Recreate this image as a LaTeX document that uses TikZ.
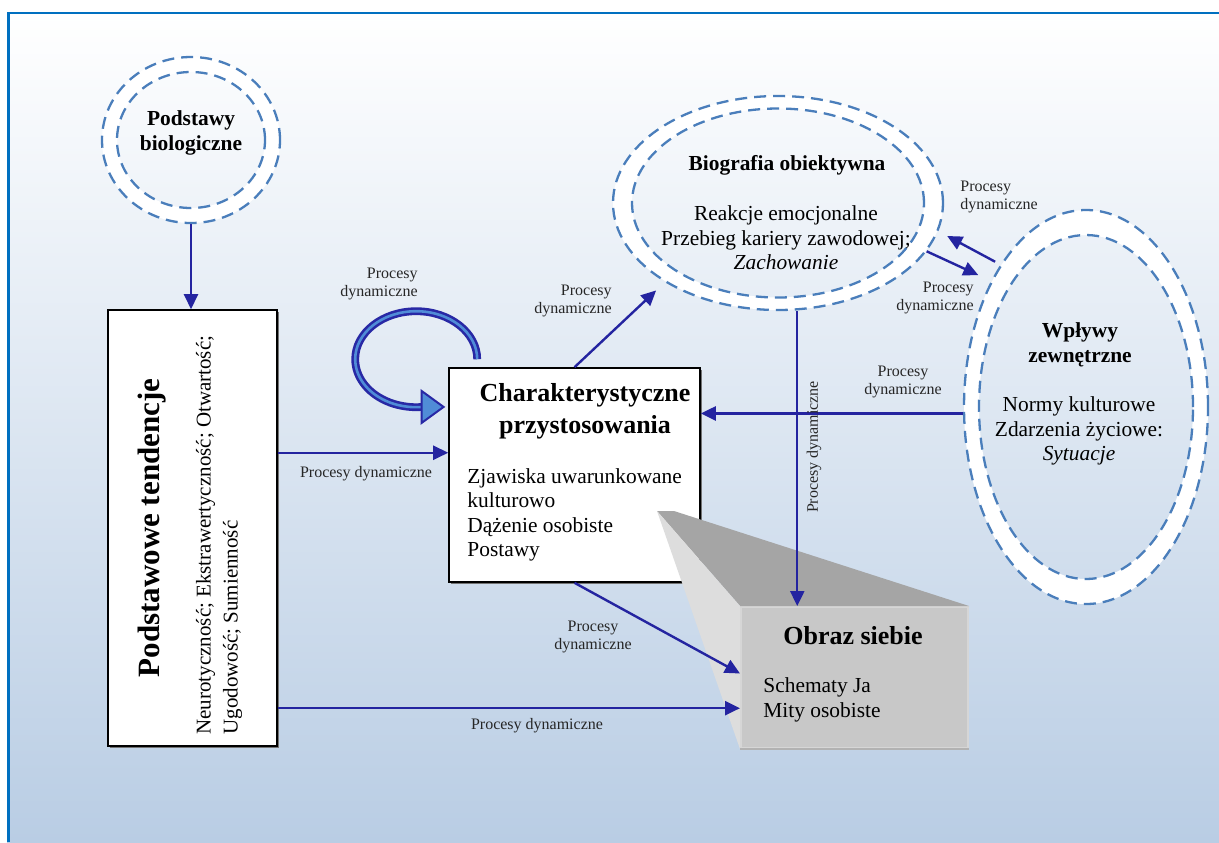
\documentclass[tikz,border=0pt]{standalone}
\usepackage{fontspec}
\setmainfont{Liberation Serif}
\usetikzlibrary{arrows.meta,shapes.geometric,calc,positioning,shadows}

\definecolor{arrowblue}{RGB}{36,36,160}
\definecolor{ringblue}{RGB}{74,126,187}
\definecolor{frameblue}{RGB}{0,112,192}
\definecolor{bgblue}{RGB}{185,205,228}
\definecolor{loopdark}{RGB}{40,40,165}
\definecolor{loopfill}{RGB}{80,140,215}
\definecolor{facefront}{RGB}{200,200,200}
\definecolor{facerim}{RGB}{214,214,214}
\definecolor{facetop}{RGB}{165,165,165}
\definecolor{faceside}{RGB}{221,221,221}

\begin{document}
\begin{tikzpicture}[x=0.5pt,y=-0.5pt,
    flowarrow/.style={draw=arrowblue, line width=1.2pt, -{Triangle[length=7.5pt,width=7pt]}},
    ringline/.style={ellipse, draw=ringblue, line width=1.15pt, dash pattern=on 6pt off 3.5pt, inner sep=0pt},
    ringfill/.style={fill=white, even odd rule},
    cardbox/.style={rectangle, draw=black, line width=0.8pt, fill=white,
        drop shadow={shadow xshift=0.8pt, shadow yshift=-0.8pt, fill=black!55, opacity=1}},
    proclabel/.style={font=\fontsize{8}{9}\selectfont, inner sep=0pt, text=black!85},
    headtxt/.style={font=\bfseries\fontsize{10.7}{12.3}\selectfont, inner sep=0pt, align=center},
    bigheadtxt/.style={font=\bfseries\fontsize{13}{16}\selectfont, inner sep=0pt, align=center},
    bodytxt/.style={font=\fontsize{10.7}{12.25}\selectfont, inner sep=0pt},
    loopline/.style={draw=loopdark, double=loopfill, line width=1.3pt, double distance=1.3pt},
    looptip/.style={draw=loopdark, fill=loopfill, line width=1pt, line join=miter}
]
    \useasboundingbox (0,0) rectangle (1219,842);

    % Background and frame
    \shade[top color=white, bottom color=bgblue] (7,12) rectangle (1219,842);
    \draw[frameblue, line width=1.3pt] (8.5,842) -- (8.5,13) -- (1219,13);

    % Dashed double rings
    \fill[ringfill] (191,140) ellipse[x radius=89, y radius=83] (191,140) ellipse[x radius=74, y radius=68];
    \node[ringline, minimum width=89pt, minimum height=83pt] (bioc) at (191,140) {};
    \node[ringline, minimum width=74pt, minimum height=68pt] (biocin) at (191,140) {};

    \fill[ringfill] (778,203) ellipse[x radius=165, y radius=107] (778,203) ellipse[x radius=146, y radius=94.5];
    \node[ringline, minimum width=165pt, minimum height=107pt] (bio) at (778,203) {};
    \node[ringline, minimum width=146pt, minimum height=94.5pt] (bioin) at (778,203) {};

    \fill[ringfill] (1086,407) ellipse[x radius=122, y radius=197] (1086,407) ellipse[x radius=107, y radius=172];
    \node[ringline, minimum width=122pt, minimum height=197pt] (wp) at (1086,407) {};
    \node[ringline, minimum width=107pt, minimum height=172pt] (wpin) at (1086,407) {};

    % Boxes
    \node[cardbox, minimum width=84.5pt, minimum height=218pt] (tend) at (192.5,528) {};
    \node[cardbox, minimum width=125.5pt, minimum height=107pt] (char) at (574.5,475) {};

    % Self image block
    \node[rectangle, fill=facefront, draw=facerim, line width=1pt, minimum width=113.5pt, minimum height=70.5pt] (obraz) at (854.5,677.5) {};
    \fill[facetop] ($(obraz.north west)+(-83,-95)$) -- ($(obraz.north west)+(-66,-95)$) -- (obraz.north east) -- (obraz.north west) -- cycle;
    \fill[faceside] ($(obraz.north west)+(-83,-95)$) -- (obraz.north west) -- (obraz.south west) -- cycle;
    \draw[black!30, line width=1pt] (obraz.south west) -- (obraz.south east);

    % Texts
    \node[headtxt] (bioctxt) at (191,133) {Podstawy\\biologiczne};
    \node[headtxt] (biohead) at (787,165) {Biografia obiektywna};
    \node[bodytxt, align=center] (biotxt) at (786,238) {Reakcje emocjonalne\\Przebieg kariery zawodowej;\\\textit{Zachowanie}};
    \node[headtxt] (wphead) at (1080,345) {Wpływy\\zewnętrzne};
    \node[bodytxt, align=center] (wptxt) at (1079,431) {Normy kulturowe\\Zdarzenia życiowe:\\\textit{Sytuacje}};
    \node[bigheadtxt] (charhead) at (585,411) {Charakterystyczne\\przystosowania};
    \node[bodytxt, align=left, anchor=west] (chartxt) at (467,515) {Zjawiska uwarunkowane\\kulturowo\\Dążenie osobiste\\Postawy};
    \node[bigheadtxt] (obrazhead) at (853,636) {Obraz siebie};
    \node[bodytxt, align=left, anchor=west] (obraztxt) at (763,700) {Schematy Ja\\Mity osobiste};
    \node[font=\bfseries\fontsize{15.5}{18}\selectfont, rotate=90, inner sep=0pt] (tendhead) at (152,528) {Podstawowe tendencje};
    \node[font=\fontsize{10.5}{13.5}\selectfont, rotate=90, align=left, anchor=west, inner sep=0pt] (tendtxt) at (219,735)
        {Neurotyczność; Ekstrawertyczność; Otwartość;\\Ugodowość; Sumienność};

    % Connectors
    \draw[flowarrow] (bioc.south) -- (bioc.south |- tend.north);
    \draw[flowarrow] (char.170 -| tend.east) -- (char.170);
    \draw[flowarrow] (obraz.195 -| tend.east) -- (obraz.195);
    \draw[flowarrow, shorten >=6pt] (char.north) -- (bio.215);
    \draw[flowarrow] (char.south) -- (obraz.178);
    \coordinate (ftop) at ($(obraz.north west)!0.25!(obraz.north east)$);
    \draw[flowarrow] (bio.south -| ftop) -- (ftop);
    \draw[flowarrow] (wp.183) -- (wp.183 -| char.east);
    \draw[flowarrow, shorten <=3pt, shorten >=5pt] (wp.121) -- (bio.-10);
    \draw[flowarrow, shorten >=7pt] (bio.-18) -- (wp.127);

    % Loop on the adaptations box
    \coordinate (loopstart) at ($(char.north west)+(29,-8)$);
    \draw[loopline] (loopstart) arc[start angle=0, end angle=-276, x radius=61, y radius=48] coordinate (loopend);
    \draw[looptip] ($(loopend)+(-1,-16)$) -- ($(loopend)+(21,0)$) -- ($(loopend)+(-1,16)$) -- cycle;

    % Labels
    \node[proclabel] (lb) at (366,474) {Procesy dynamiczne};
    \node[proclabel] (lc) at (537,726) {Procesy dynamiczne};
    \node[proclabel, align=right, anchor=east] (ld) at (612,301) {Procesy\\dynamiczne};
    \node[proclabel, align=center] (le) at (593,637) {Procesy\\dynamiczne};
    \node[proclabel, rotate=90] (lf) at (814,447) {Procesy dynamiczne};
    \node[proclabel, align=center] (lg) at (903,382) {Procesy\\dynamiczne};
    \node[proclabel, align=left, anchor=west] (lh) at (960,197) {Procesy\\dynamiczne};
    \node[proclabel, align=right, anchor=east] (li) at (974,298) {Procesy\\dynamiczne};
    \node[proclabel, align=right, anchor=east] (lloop) at (418,284) {Procesy\\dynamiczne};
\end{tikzpicture}
\end{document}
